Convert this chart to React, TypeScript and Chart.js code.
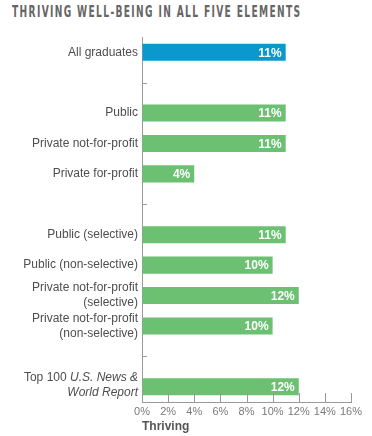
import React, { useEffect, useRef } from "react";
import { Chart, registerables } from "chart.js";

Chart.register(...registerables);

const titleText = "THRIVING WELL-BEING IN ALL FIVE ELEMENTS";
const axisTitle = "Thriving";

const categories: (string | string[])[] = [
  "All graduates",
  "",
  "Public",
  "Private not-for-profit",
  "Private for-profit",
  "",
  "Public (selective)",
  "Public (non-selective)",
  ["Private not-for-profit", "(selective)"],
  ["Private not-for-profit", "(non-selective)"],
  "",
  "Top 100 U.S. News & World Report",
];

const values: (number | null)[] = [11, null, 11, 11, 4, null, 11, 10, 12, 10, null, 12];

const BLUE = "#0b98cf";
const GREEN = "#6cc072";
const barColors = values.map((_, i) => (i === 0 ? BLUE : GREEN));

const xMin = 0;
const xMax = 16;
const xStep = 2;

const AXIS = "#9a9a9a";
const LABEL = "#4e4e4e";
const FONT = "'Liberation Sans', Arial, Helvetica, sans-serif";

const decor = {
  id: "decor",
  afterDatasetsDraw(chart: any) {
    const ctx = chart.ctx as CanvasRenderingContext2D;
    const x = chart.scales.x;
    const y = chart.scales.y;
    ctx.save();
    // value labels
    const meta = chart.getDatasetMeta(0);
    ctx.font = `bold 12px ${FONT}`;
    ctx.fillStyle = "#ffffff";
    ctx.textAlign = "right";
    ctx.textBaseline = "middle";
    meta.data.forEach((bar: any, i: number) => {
      const v = values[i];
      if (v == null) return;
      ctx.fillText(v + "%", bar.x - 4, bar.y + 1);
    });
    // separator ticks on y axis
    ctx.strokeStyle = AXIS;
    ctx.lineWidth = 1;
    ctx.beginPath();
    values.forEach((v, i) => {
      if (v != null) return;
      const py = Math.round(y.getPixelForValue(i)) + 0.5;
      ctx.moveTo(x.left, py);
      ctx.lineTo(x.left + 5, py);
    });
    // upward x ticks
    x.ticks.forEach((t: any) => {
      const px = Math.round(x.getPixelForValue(t.value)) + 0.5;
      ctx.moveTo(px, x.top);
      ctx.lineTo(px, x.top - 9);
    });
    ctx.stroke();
    // mixed-style label for last category
    const idx = categories.length - 1;
    const cy = y.getPixelForValue(idx) - 2;
    const right = y.right - 4;
    ctx.fillStyle = LABEL;
    ctx.textBaseline = "middle";
    ctx.textAlign = "right";
    ctx.font = `italic 12px ${FONT}`;
    const ital = "U.S. News &";
    const w2 = ctx.measureText(ital).width;
    ctx.fillText(ital, right, cy - 7.5);
    ctx.fillText("World Report", right, cy + 7.5);
    ctx.font = `12px ${FONT}`;
    ctx.fillText("Top 100 ", right - w2, cy - 7.5);
    ctx.restore();
  },
};

export default function App() {
  const ref = useRef<HTMLCanvasElement>(null);
  useEffect(() => {
    if (!ref.current) return;
    const chart = new Chart(ref.current, {
      type: "bar",
      data: {
        labels: categories,
        datasets: [
          {
            data: values,
            backgroundColor: barColors,
            borderWidth: 0,
            barPercentage: 0.56,
            categoryPercentage: 1,
          },
        ],
      },
      options: {
        indexAxis: "y",
        animation: false,
        responsive: true,
        maintainAspectRatio: false,
        layout: { padding: { top: 37, right: 21, left: 0, bottom: 0 } },
        plugins: {
          legend: { display: false },
          tooltip: { enabled: false },
          title: { display: false },
        },
        scales: {
          y: {
            grid: { display: true, drawOnChartArea: false, drawTicks: false },
            border: { color: AXIS, width: 1 },
            ticks: {
              autoSkip: false,
              padding: 4,
              color: LABEL,
              font: { family: FONT, size: 12, lineHeight: 1.25 },
              callback: (_v: any, i: number) => (i === categories.length - 1 ? "" : categories[i]),
            },
            afterFit: (s: any) => {
              s.width = 142;
            },
          },
          x: {
            min: xMin,
            max: xMax,
            grid: { display: true, drawOnChartArea: false, drawTicks: false },
            border: { color: AXIS, width: 1 },
            ticks: {
              stepSize: xStep,
              autoSkip: false,
              maxRotation: 0,
              minRotation: 0,
              padding: 3,
              color: "#7a7a7a",
              font: { family: FONT, size: 11 },
              callback: (v: any) => v + "%",
            },
            title: {
              display: true,
              text: axisTitle,
              align: "start",
              color: "#555555",
              font: { family: FONT, size: 12, weight: "bold" },
              padding: { top: 0, bottom: 2 },
            },
            afterFit: (s: any) => {
              s.height = 34;
            },
          },
        },
      },
      plugins: [decor],
    });
    return () => chart.destroy();
  }, []);

  return (
    <div style={{ position: "fixed", left: 0, top: 0, width: 372, height: 436, background: "#fff" }}>
      <div
        style={{
          position: "absolute",
          left: 12,
          top: 3,
          fontFamily: "'Liberation Sans Narrow', 'DejaVu Sans Condensed', sans-serif",
          fontWeight: "bold",
          fontSize: 15,
          letterSpacing: "2px",
          color: "#666666",
          whiteSpace: "nowrap",
          transform: "scaleX(0.675)",
          transformOrigin: "left top",
        }}
      >
        {titleText}
      </div>
      <div style={{ position: "absolute", left: 0, top: 0, width: 372, height: 436 }}>
        <canvas ref={ref} />
      </div>
    </div>
  );
}
